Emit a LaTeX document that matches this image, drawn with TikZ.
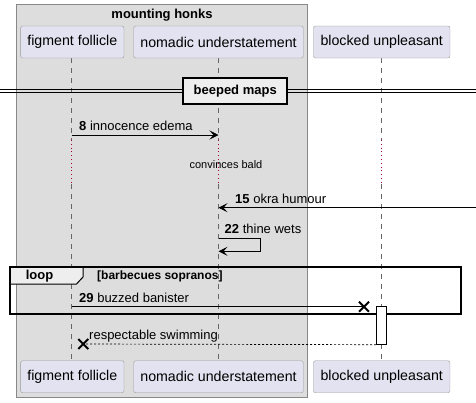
\documentclass[tikz,border=0pt]{standalone}
\usepackage{fontspec}
\setmainfont{Liberation Sans}
\usetikzlibrary{arrows.meta,calc}
\definecolor{grpfill}{HTML}{DDDDDD}
\definecolor{grpline}{HTML}{888888}
\definecolor{partfill}{HTML}{E2E2F0}
\definecolor{partline}{HTML}{9A9A9A}
\definecolor{tabfill}{HTML}{EEEEEE}
\definecolor{delayred}{HTML}{A0003C}
\begin{document}
\begin{tikzpicture}[x=1pt,y=-1pt,
  participant/.style={draw=partline, fill=partfill, rounded corners=2pt, minimum height=32pt, inner sep=0pt, font=\fontsize{14.2}{16}\selectfont},
  lifeline/.style={draw=gray!80!black, dash pattern=on 5pt off 5pt, line width=0.6pt},
  delayline/.style={draw=delayred, dash pattern=on 0.8pt off 3pt, line width=0.6pt},
  msg/.style={draw=black, line width=0.8pt, -{Stealth[length=9pt,width=9pt,inset=4pt]}},
  retmsg/.style={draw=black, line width=0.7pt, dash pattern=on 2pt off 2pt},
  lbl/.style={font=\fontsize{13}{15}\selectfont, inner sep=0pt, anchor=base west},
  xmark/.style={draw=black, line width=2pt},
]
\useasboundingbox (0,0) rectangle (476,402);
% group box
\draw[draw=grpline, fill=grpfill, line width=0.8pt] (16.7,4) rectangle (307,397.7);
\node[font=\bfseries\fontsize{13}{15}\selectfont, inner sep=0pt] (grp) at (162,15) {mounting honks};
% lifelines
\foreach \x in {71.5,218.5,381.5}{
  \draw[lifeline] (\x,58) -- (\x,140);
  \draw[delayline] (\x,140) -- (\x,184);
  \draw[lifeline] (\x,184) -- (\x,361.7);
}
% participants top
\node[participant, minimum width=103.3pt] (f1) at (72.3,42) {figment follicle};
\node[participant, minimum width=169.5pt] (n1) at (218.5,42) {nomadic understatement};
\node[participant, minimum width=136.5pt] (b1) at (381.7,42) {blocked unpleasant};
% participants bottom
\node[participant, minimum width=103.3pt] (f2) at (72.3,376.7) {figment follicle};
\node[participant, minimum width=169.5pt] (n2) at (218.5,376.7) {nomadic understatement};
\node[participant, minimum width=136.5pt] (b2) at (381.7,376.7) {blocked unpleasant};
% divider
\draw[line width=0.8pt] (0,89) -- (476,89) (0,92.5) -- (476,92.5);
\node[draw=black, line width=2pt, fill=tabfill, minimum width=104pt, minimum height=26pt, inner sep=0pt,
  font=\bfseries\fontsize{13}{15}\selectfont] (div) at (235.2,91) {beeped maps};
% message 8
\coordinate (m8a) at (71.5,135); \coordinate (m8b) at (218.5,135);
\draw[msg] (m8a) -- (m8b);
\node[lbl] (l8) at (79,130) {\textbf{8} innocence edema};
% delay text
\node[font=\fontsize{11}{13}\selectfont, inner sep=0pt] (dly) at (226,165) {convinces bald};
% message 15
\coordinate (m15a) at (476,207.7); \coordinate (m15b) at (218.5,207.7);
\draw[msg] (m15a) -- (m15b);
\node[lbl] (l15) at (235,203) {\textbf{15} okra humour};
% message 22 self
\coordinate (m22a) at (218.5,238.3); \coordinate (m22b) at (218.5,251.3);
\draw[msg] (m22a) -- (260.5,238.3) -- (260.5,251.3) -- (m22b);
\node[lbl] (l22) at (224.5,233.5) {\textbf{22} thine wets};
% loop frame
\draw[draw=black, fill=tabfill, line width=1pt] (10,266.7) -- (83,266.7) -- (83,277) -- (76.5,284) -- (10,284) -- cycle;
\draw[draw=black, line width=2pt] (10,266.7) rectangle (461,314);
\node[font=\bfseries\fontsize{13}{15}\selectfont, inner sep=0pt] (lp) at (39.5,276) {loop};
\node[font=\bfseries\fontsize{12}{14}\selectfont, inner sep=0pt, anchor=west] (cond) at (97,276) {[barbecues sopranos]};
% activation
\node[draw=black, fill=white, line width=0.8pt, minimum width=10pt, minimum height=37.6pt, inner sep=0pt] (act) at (381.5,325.5) {};
% message 29
\coordinate (m29a) at (71.5,306.7); \coordinate (m29x) at (364,306.7);
\draw[line width=0.8pt] (m29a) -- (m29x);
\draw[xmark] ($(m29x)+(-5,-5)$) -- ($(m29x)+(5,5)$) ($(m29x)+(-5,5)$) -- ($(m29x)+(5,-5)$);
\node[lbl] (l29) at (79,302) {\textbf{29} buzzed banister};
% return message
\coordinate (rx) at (83.3,344);
\draw[retmsg] (act.south west) -- (rx);
\draw[xmark] ($(rx)+(-5,-5)$) -- ($(rx)+(5,5)$) ($(rx)+(-5,5)$) -- ($(rx)+(5,-5)$);
\node[lbl] (lr) at (89,339) {respectable swimming};
\end{tikzpicture}
\end{document}
